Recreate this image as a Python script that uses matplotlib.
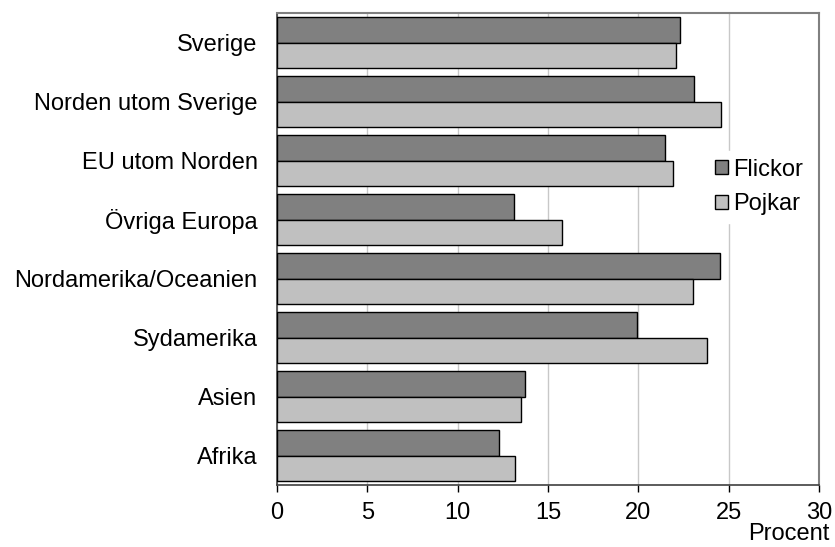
import numpy as np
import matplotlib.pyplot as plt

plt.rcParams['font.family'] = ['Liberation Sans', 'DejaVu Sans']

# data
regions = ["Sverige", "Norden utom Sverige", "EU utom Norden", "Övriga Europa",
           "Nordamerika/Oceanien", "Sydamerika", "Asien", "Afrika"]
flickor = [22.3, 23.1, 21.5, 13.1, 24.5, 19.9, 13.7, 12.3]
pojkar = [22.1, 24.6, 21.9, 15.8, 23.0, 23.8, 13.5, 13.2]
xticks = [0, 5, 10, 15, 20, 25, 30]

DARK = "#808080"
LIGHT = "#c0c0c0"
BAR_H = 0.43
FS = 17

W, H = 835, 547
fig = plt.figure(figsize=(W/100, H/100), dpi=100)
ax = fig.add_axes([277/W, 1 - 485/H, (819-277)/W, (485-13)/H])

y = np.arange(len(regions))
ax.barh(y - BAR_H/2, flickor, height=BAR_H, color=DARK, edgecolor="black",
        linewidth=1, label="Flickor", zorder=3)
ax.barh(y + BAR_H/2, pojkar, height=BAR_H, color=LIGHT, edgecolor="black",
        linewidth=1, label="Pojkar", zorder=3)

ax.set_ylim(len(regions) - 0.5, -0.5)
ax.set_xlim(0, 30)
ax.set_xticks(xticks)
ax.set_xticklabels([str(t) for t in xticks], fontsize=FS)
ax.set_yticks(y)
ax.set_yticklabels(regions, fontsize=FS)
ax.tick_params(axis="y", length=0, pad=14)
ax.tick_params(axis="x", direction="out", length=5, width=1, color="black", pad=7.5)

ax.grid(axis="x", color="#c8c8c8", linewidth=1, zorder=0)
for side in ["top", "right"]:
    ax.spines[side].set_color("#808080")
    ax.spines[side].set_linewidth(1.5)
for side in ["left", "bottom"]:
    ax.spines[side].set_color("#404040")
    ax.spines[side].set_linewidth(1.2)

leg = ax.legend(loc="center left", bbox_to_anchor=(708/W, 1 - 187/H),
                bbox_transform=fig.transFigure, fontsize=FS,
                frameon=True, fancybox=False, edgecolor="white", framealpha=1,
                handlelength=0.55, handleheight=0.55, handletextpad=0.2,
                labelspacing=0.55, borderaxespad=0, borderpad=0.3)
for h in leg.legend_handles:
    h.set_linewidth(1)

fig.text(830/W, 1 - 540/H, "Procent", ha="right", va="baseline", fontsize=FS)

fig.savefig("out.png", dpi=100)
